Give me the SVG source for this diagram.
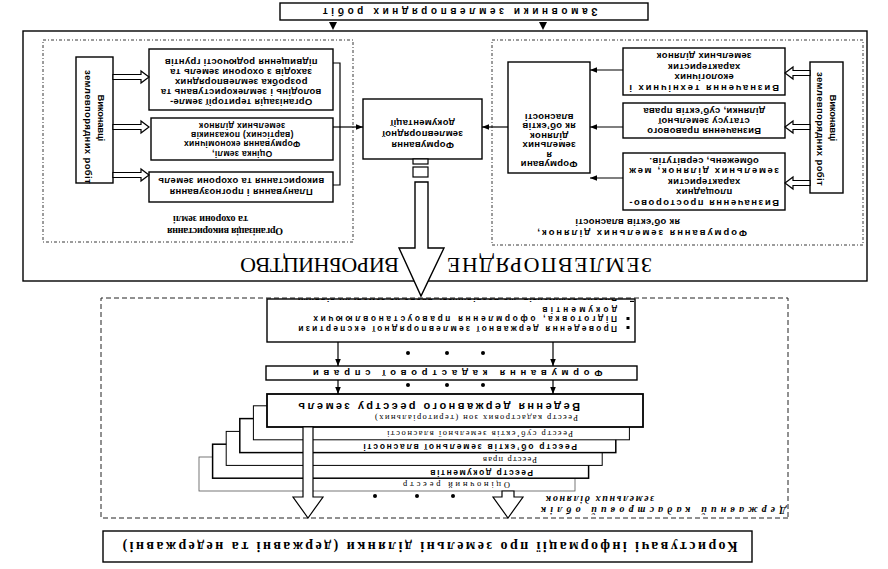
<svg xmlns="http://www.w3.org/2000/svg" width="888" height="569" viewBox="0 0 888 569">
<defs>
<marker id="ah" viewBox="0 0 10 10" refX="10" refY="5" markerWidth="7" markerHeight="7" orient="auto" markerUnits="userSpaceOnUse"><path d="M0,1 L10,5 L0,9 z" fill="#000"/></marker>
<clipPath id="expClip"><rect x="253" y="227" width="368" height="43"/></clipPath>
</defs>
<style>
.bx{fill:#fff;stroke:#000;stroke-width:1.4}
.dsh{fill:none;stroke:#222;stroke-width:0.9;stroke-dasharray:3 2 1 2}
.dsh2{fill:none;stroke:#222;stroke-width:1;stroke-dasharray:5 3}
.ln{fill:none;stroke:#000;stroke-width:1.2}
.ha{fill:#fff;stroke:#000;stroke-width:1.2}
.t{font-family:"Liberation Sans",Arial,sans-serif;font-weight:bold;font-size:9.5px;letter-spacing:0.3px;fill:#000}
.c{text-anchor:middle}
.e{text-anchor:end}
.sf{font-family:"Liberation Serif","Times New Roman",serif;fill:#000}
.dot{fill:#000}
.ex{font-size:8.4px}
</style>
<rect width="888" height="569" fill="#fff"/>
<g transform="rotate(180 444 284.5)">

<g id="customers">
<rect class="bx" x="240" y="549" width="368" height="17"/>
<text class="t c" x="428" y="561" style="font-size:10px" textLength="275" lengthAdjust="spacing">Замовники землевпорядних робіт</text>
</g>

<g id="production">
<rect class="bx" x="21" y="288" width="844" height="250"/>
<text class="sf" x="236" y="311" style="font-size:22px" textLength="205" lengthAdjust="spacing">ЗЕМЛЕВПОРЯДНЕ</text>
<text class="sf" x="489" y="311" style="font-size:22px" textLength="159" lengthAdjust="spacing">ВИРОБНИЦТВО</text>
</g>

<g id="land-use-block">
<rect class="dsh" x="535" y="327" width="310" height="202"/>
<text class="sf" x="605" y="341" style="font-size:10px;font-weight:bold" textLength="116" lengthAdjust="spacing">Організація використання</text>
<text class="sf" x="640" y="353" style="font-size:10px;font-weight:bold" textLength="75" lengthAdjust="spacing">та охорони землі</text>
</g>

<g id="executors-left">
<rect class="bx" x="775" y="386" width="37" height="126"/>
<text class="t c" transform="translate(790.5,451) rotate(-90)" textLength="47" lengthAdjust="spacing">Виконавці</text>
<text class="t c" transform="translate(803.5,442) rotate(-90)" textLength="114" lengthAdjust="spacing">землевпорядних робіт</text>
</g>

<g id="organization">
<rect class="bx" x="555" y="459" width="184" height="61"/>
<text class="t c" x="647" y="470">Організація території земле-</text>
<text class="t c" x="647" y="480">володінь і землекористувань та</text>
<text class="t c" x="647" y="490">розробка землевпорядних</text>
<text class="t c" x="647" y="500">заходів з охорони земель та</text>
<text class="t c" x="647" y="510">підвищення родючості грунтів</text>
</g>

<g id="valuation">
<rect class="bx" x="555" y="409" width="182" height="42"/>
<text class="t c" x="646" y="418.5" style="font-size:8.6px">Оцінка землі,</text>
<text class="t c" x="646" y="427.8" style="font-size:8.6px">Формування економічних</text>
<text class="t c" x="646" y="437.1" style="font-size:8.6px">(вартісних) показників</text>
<text class="t c" x="646" y="446.4" style="font-size:8.6px">земельних ділянок</text>
</g>

<g id="planning">
<rect class="bx" x="555" y="367" width="184" height="30"/>
<text class="t c" x="647" y="380">Планування і прогнозування</text>
<text class="t c" x="647" y="391">використання та охорони земель</text>
</g>

<g id="documentation">
<rect class="bx" x="406" y="410" width="119" height="60"/>
<text class="t c" x="465.5" y="427">Формування</text>
<text class="t c" x="465.5" y="438">землевпорядної</text>
<text class="t c" x="465.5" y="449">документації</text>
</g>

<g id="plots-block">
<rect class="dsh" x="25" y="324" width="371" height="205"/>
<text class="t" x="141" y="339" textLength="210" lengthAdjust="spacing">Формування земельних ділянок,</text>
<text class="t" x="208" y="350" textLength="105" lengthAdjust="spacing">як об’єктів власності</text>
</g>

<g id="executors-right">
<rect class="bx" x="45" y="376" width="33" height="131"/>
<text class="t c" transform="translate(58.5,451) rotate(-90)" textLength="47" lengthAdjust="spacing">Виконавці</text>
<text class="t c" transform="translate(71.5,440) rotate(-90)" textLength="114" lengthAdjust="spacing">землевпорядних робіт</text>
</g>

<g id="technical">
<rect class="bx" x="103" y="474" width="162" height="47"/>
<text class="t c" x="184" y="484.5" textLength="150" lengthAdjust="spacing">Визначення технічних і</text>
<text class="t c" x="184" y="495">екологічних</text>
<text class="t c" x="184" y="505.5">характеристик</text>
<text class="t c" x="184" y="516">земельних ділянок</text>
</g>

<g id="legal">
<rect class="bx" x="103" y="431" width="162" height="35"/>
<text class="t c" x="184" y="441">Визначення правового</text>
<text class="t c" x="184" y="451">статусу земельної</text>
<text class="t c" x="184" y="461">ділянки, суб’єктів права</text>
</g>

<g id="spatial">
<rect class="bx" x="103" y="359" width="162" height="57"/>
<text class="t c" x="184" y="369.5" textLength="150" lengthAdjust="spacing">Визначення просторово-</text>
<text class="t c" x="184" y="380">площадних</text>
<text class="t c" x="184" y="390.5">характеристик</text>
<text class="t c" x="184" y="401" textLength="150" lengthAdjust="spacing">земельних ділянок, меж</text>
<text class="t c" x="184" y="411.5">обмежень, сервітутів.</text>
</g>

<g id="plot-forming">
<rect class="bx" x="298" y="396" width="82" height="111"/>
<text class="t c" x="339" y="408">Формувани</text>
<text class="t c" x="339" y="417.5">я</text>
<text class="t c" x="339" y="427">земельних</text>
<text class="t c" x="339" y="436.5">ділянок</text>
<text class="t c" x="339" y="446">як об’єктів</text>
<text class="t c" x="339" y="455.5">власності</text>
</g>

<g id="cadastre-block">
<rect class="dsh2" x="100" y="51" width="687" height="220"/>
<text class="sf e" x="347" y="62.5" style="font-size:10px;font-weight:bold;font-style:italic" textLength="245" lengthAdjust="spacing">Державний кадастровий облік</text>
<text class="sf e" x="342" y="73" style="font-size:10px;font-weight:bold;font-style:italic" textLength="108" lengthAdjust="spacing">земельних ділянок</text>
</g>

<g id="expertise">
<rect class="bx" x="253" y="227" width="368" height="43"/>
<rect x="258.5" y="240" width="3" height="3" fill="#000"/>
<text class="t ex" x="271" y="243.5" textLength="319" lengthAdjust="spacing">Проведення державної землевпорядної експертизи</text>
<rect x="258.5" y="249" width="3" height="3" fill="#000"/>
<text class="t ex" x="271" y="252.8" textLength="304" lengthAdjust="spacing">Підготовка, оформлення правоустановлюючих</text>
<text class="t ex" x="271" y="262.3" textLength="75" lengthAdjust="spacing">документів</text>
<g clip-path="url(#expClip)">
<rect x="254" y="267" width="4" height="1.2" fill="#000"/>
<text class="t ex" x="271" y="274.5" textLength="319" lengthAdjust="spacing">Видача документів, що посвідчують право на земельну ділянку</text>
</g>
</g>

<g id="dossier">
<rect class="bx" x="251" y="189" width="371" height="14"/>
<text class="t c" x="430.5" y="199.5" textLength="290" lengthAdjust="spacing">Формування кадастрової справи</text>
</g>

<g id="register-valuation">
<rect x="313" y="78" width="376" height="34" fill="#fff" stroke="#555" stroke-width="0.8"/>
<text class="sf" x="378" y="87" style="font-size:8.5px" textLength="107" lengthAdjust="spacing">Оціночний реєстр</text>
</g>
<g id="register-documents">
<rect x="299.4" y="90.8" width="376" height="34" fill="#fff" stroke="#000" stroke-width="1.5"/>
<text class="t" x="355" y="99.5" style="font-size:8.5px" textLength="103" lengthAdjust="spacing">Реєстр документів</text>
</g>
<g id="register-rights">
<rect x="285.8" y="103.6" width="376" height="34" fill="#fff" stroke="#000" stroke-width="1"/>
<text class="sf" x="351" y="112" style="font-size:8.5px" textLength="54" lengthAdjust="spacing">Реєстр прав</text>
</g>
<g id="register-objects">
<rect x="272.2" y="116.4" width="376" height="34" fill="#fff" stroke="#000" stroke-width="1.5"/>
<text class="t" x="311" y="125.5" style="font-size:8.5px" textLength="214" lengthAdjust="spacing">Реєстр об’єктів земельної власності</text>
</g>
<g id="register-subjects">
<rect x="258.6" y="129.2" width="376" height="34" fill="#fff" stroke="#000" stroke-width="1"/>
<text class="sf" x="315" y="138" style="font-size:8.5px" textLength="186" lengthAdjust="spacing">Реєстр суб’єктів земельної власності</text>
</g>
<g id="register-main">
<rect x="245" y="142" width="376" height="33" fill="#fff" stroke="#000" stroke-width="1.8"/>
<text class="sf" x="310" y="154" style="font-size:8.5px" textLength="203" lengthAdjust="spacing">Реєстр кадастрових  зон (територіальних)</text>
<text class="t" x="308" y="166.5" style="font-size:11px" textLength="282" lengthAdjust="spacing">Ведення державного реєстру земель</text>
</g>

<g id="users">
<rect class="bx" x="136" y="7" width="649" height="31"/>
<text class="sf c" x="458" y="27" style="font-size:14px;font-weight:bold" textLength="615" lengthAdjust="spacing">Користувачі інформації про земельні ділянки (державні та недержавні)</text>
</g>

<g id="connectors">
<polygon points="551,547 559,547 555,539" fill="#000"/>
<polygon points="341,547 349,547 345,539" fill="#000"/>
<polygon class="ha" points="775,489.5 747,489.5 747,486 739,492 747,498 747,494.5 775,494.5"/>
<polygon class="ha" points="775,439.5 747,439.5 747,436 739,442 747,448 747,444.5 775,444.5"/>
<polygon class="ha" points="775,391.5 747,391.5 747,388 739,394 747,400 747,396.5 775,396.5"/>
<path class="ln" d="M555,506 H548 V384 H555"/>
<path class="ln" d="M555,442 H525" marker-end="url(#ah)"/>
<polygon class="ha" points="78,493.5 95,493.5 95,490 103,496 95,502 95,498.5 78,498.5"/>
<polygon class="ha" points="78,439.5 95,439.5 95,436 103,442 95,448 95,444.5 78,444.5"/>
<polygon class="ha" points="78,383.5 95,383.5 95,380 103,386 95,392 95,388.5 78,388.5"/>
<path class="ln" d="M265,499 H298" marker-end="url(#ah)"/>
<path class="ln" d="M265,442 H298" marker-end="url(#ah)"/>
<path class="ln" d="M265,391 H298" marker-end="url(#ah)"/>
<path class="ln" d="M380,442 H406" marker-end="url(#ah)"/>
<rect class="ha" x="460" y="405" width="15" height="5"/>
<rect class="ha" x="460" y="392" width="15" height="10"/>
<polygon class="ha" style="stroke-width:1.4" points="460,387 460,321 444,321 467,273 489,321 473,321 473,387"/>
<path class="ln" d="M550,227 V203" marker-end="url(#ah)"/>
<path class="ln" d="M335,227 V203" marker-end="url(#ah)"/>
<circle class="dot" cx="480" cy="216" r="2"/>
<circle class="dot" cx="441" cy="216" r="2"/>
<circle class="dot" cx="405" cy="216" r="2"/>
<path class="ln" d="M550,189 V175" marker-end="url(#ah)"/>
<path class="ln" d="M335,189 V175" marker-end="url(#ah)"/>
<circle class="dot" cx="480" cy="184" r="2"/>
<circle class="dot" cx="441" cy="184" r="2"/>
<circle class="dot" cx="405" cy="184" r="2"/>
<polygon class="ha" points="575,142 575,72 565,72 580,51 595,72 585,72 585,142"/>
<polygon class="ha" points="374,78 374,72 365,72 380,51 395,72 386,72 386,78"/>
<circle class="dot" cx="513" cy="73" r="2"/>
<circle class="dot" cx="471" cy="73" r="2"/>
<circle class="dot" cx="435" cy="73" r="2"/>
</g>
</g>
</svg>
